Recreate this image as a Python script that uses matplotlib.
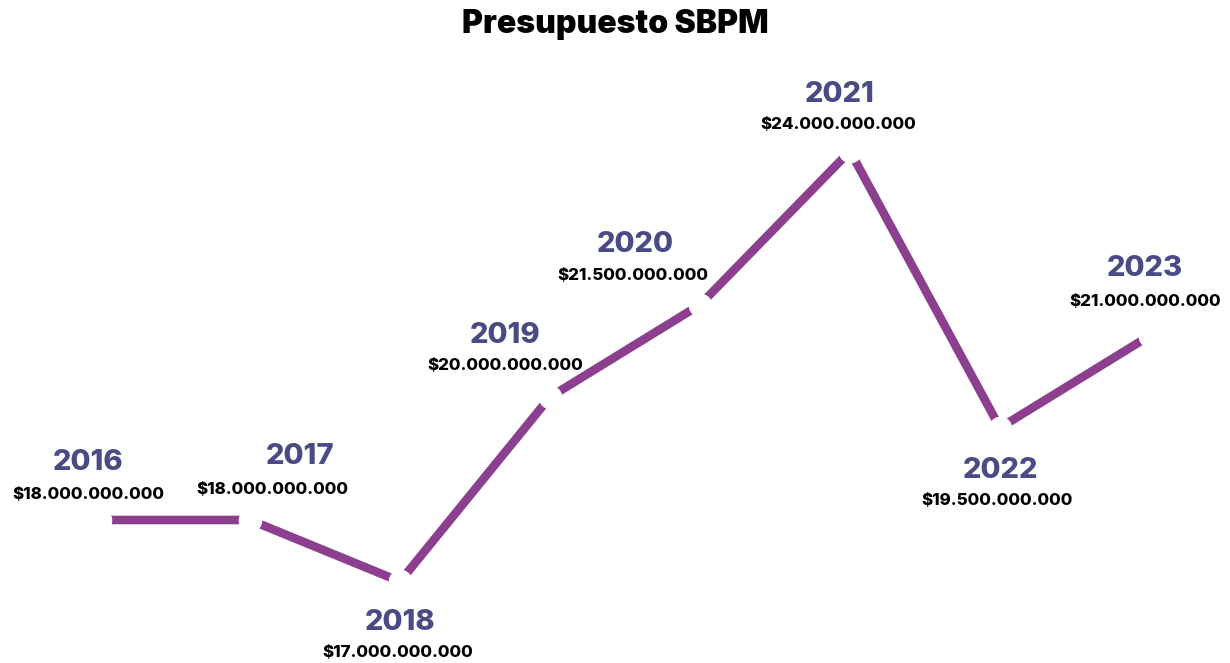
import numpy as np
import matplotlib.pyplot as plt

# %% data
years = ["2016", "2017", "2018", "2019", "2020", "2021", "2022", "2023"]
budget = [18.0, 18.0, 17.0, 20.0, 21.5, 24.0, 19.5, 21.0]  # miles de millones
value_labels = [
    "$18.000.000.000",
    "$18.000.000.000",
    "$17.000.000.000",
    "$20.000.000.000",
    "$21.500.000.000",
    "$24.000.000.000",
    "$19.500.000.000",
    "$21.000.000.000",
]

# label offsets from each point (pixels, y up)
year_off = [(-12, 57), (50, 63), (0, -41), (-45, 62), (-65, 60), (-10, 57), (0, -43), (-5, 67)]
val_off = [(-12, 25), (22, 30), (-2, -71), (-45, 32), (-67, 29), (-12, 27), (-3, -73), (-5, 34)]

line_color = "#8b3f8e"
year_color = "#4a4a85"

plt.rcParams["font.family"] = ["Inter", "DejaVu Sans"]

# %% plot
fig = plt.figure(figsize=(12.3, 6.63), dpi=100)
ax = fig.add_axes([0, 0, 1, 1])
x = np.arange(len(years))

ax.plot(x, budget, color=line_color, linewidth=6.2, solid_capstyle="butt", zorder=1)
ax.plot(x, budget, "o", markersize=16, markerfacecolor="white",
        markeredgecolor="white", zorder=2)

for i in range(len(years)):
    ax.annotate(years[i], (x[i], budget[i]), xytext=year_off[i],
                textcoords="offset pixels", ha="center", va="center",
                fontsize=21, fontweight="heavy", color=year_color)
    ax.annotate(value_labels[i], (x[i], budget[i]), xytext=val_off[i],
                textcoords="offset pixels", ha="center", va="center",
                fontsize=12.2, fontweight="heavy", color="black")

fig.text(0.5, 1 - 25 / 663, "Presupuesto SBPM", ha="center", va="center",
         fontsize=23, fontweight="black", color="black")

ax.set_xlim(-100 / 150, 1130 / 150)
ax.set_ylim(15.674, 26.457)
ax.axis("off")

fig.savefig("out.png", dpi=100, facecolor="white")
